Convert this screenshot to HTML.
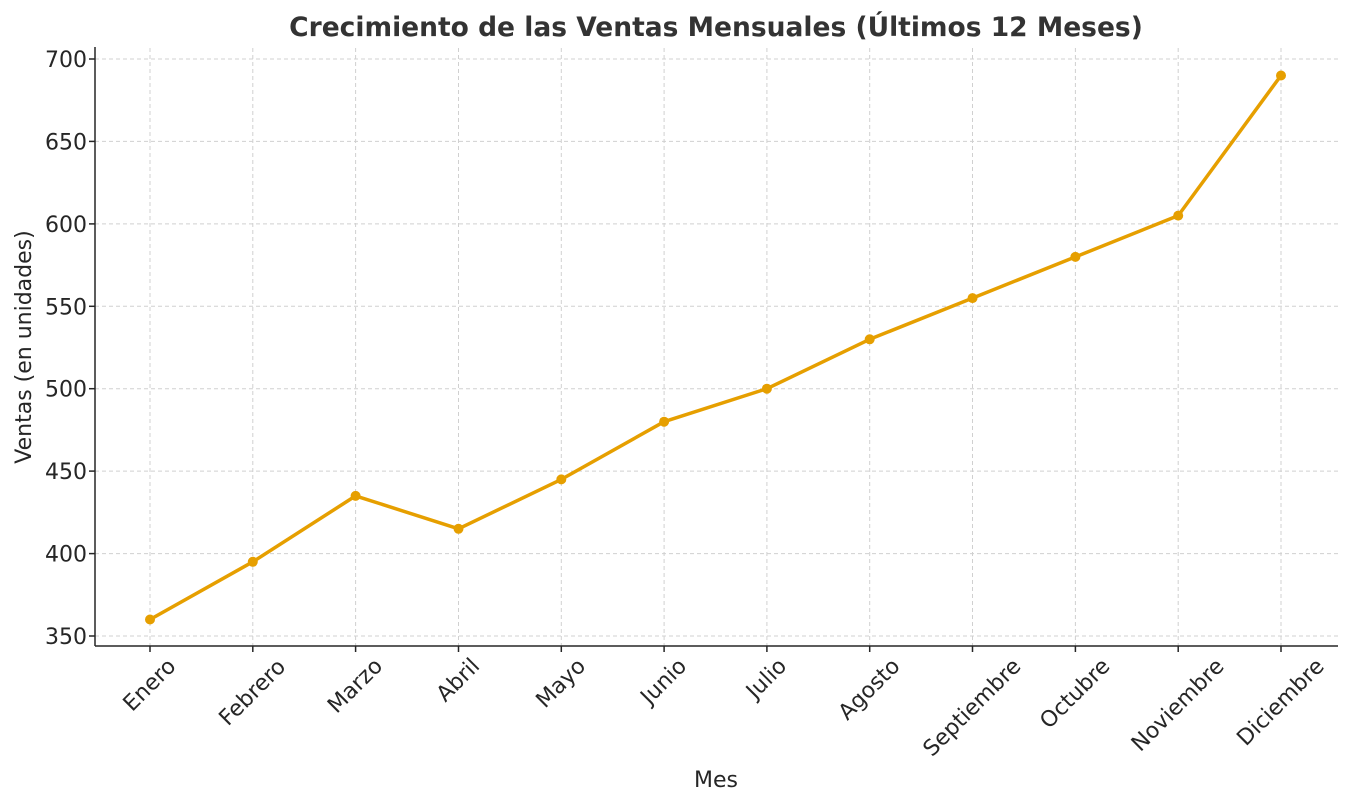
<!DOCTYPE html>
<html><head><meta charset="utf-8"><style>body{margin:0;background:#fff}svg{display:block}text{font-family:"DejaVu Sans","Liberation Sans",sans-serif;fill:#262626}</style></head><body>
<svg width="1351" height="806" xmlns="http://www.w3.org/2000/svg">
<rect width="1351" height="806" fill="#fff"/>
<g stroke="#d0d0d0" stroke-width="1" stroke-dasharray="4,3">
<line x1="95" x2="1338" y1="59" y2="59"/><line x1="95" x2="1338" y1="141.4" y2="141.4"/><line x1="95" x2="1338" y1="223.9" y2="223.9"/><line x1="95" x2="1338" y1="306.3" y2="306.3"/><line x1="95" x2="1338" y1="388.7" y2="388.7"/><line x1="95" x2="1338" y1="471.1" y2="471.1"/><line x1="95" x2="1338" y1="553.6" y2="553.6"/><line x1="95" x2="1338" y1="636" y2="636"/>
<line y1="48" y2="646" x1="150" x2="150"/><line y1="48" y2="646" x1="252.8" x2="252.8"/><line y1="48" y2="646" x1="355.6" x2="355.6"/><line y1="48" y2="646" x1="458.5" x2="458.5"/><line y1="48" y2="646" x1="561.3" x2="561.3"/><line y1="48" y2="646" x1="664.1" x2="664.1"/><line y1="48" y2="646" x1="766.9" x2="766.9"/><line y1="48" y2="646" x1="869.7" x2="869.7"/><line y1="48" y2="646" x1="972.5" x2="972.5"/><line y1="48" y2="646" x1="1075.4" x2="1075.4"/><line y1="48" y2="646" x1="1178.2" x2="1178.2"/><line y1="48" y2="646" x1="1281" x2="1281"/>
</g>
<g stroke="#262626" stroke-width="1.5">
<line x1="95" y1="47" x2="95" y2="646"/><line x1="95" y1="646" x2="1338" y2="646"/>
<line x1="89" x2="95" y1="59" y2="59"/><line x1="89" x2="95" y1="141.4" y2="141.4"/><line x1="89" x2="95" y1="223.9" y2="223.9"/><line x1="89" x2="95" y1="306.3" y2="306.3"/><line x1="89" x2="95" y1="388.7" y2="388.7"/><line x1="89" x2="95" y1="471.1" y2="471.1"/><line x1="89" x2="95" y1="553.6" y2="553.6"/><line x1="89" x2="95" y1="636" y2="636"/>
<line y1="646" y2="652" x1="150" x2="150"/><line y1="646" y2="652" x1="252.8" x2="252.8"/><line y1="646" y2="652" x1="355.6" x2="355.6"/><line y1="646" y2="652" x1="458.5" x2="458.5"/><line y1="646" y2="652" x1="561.3" x2="561.3"/><line y1="646" y2="652" x1="664.1" x2="664.1"/><line y1="646" y2="652" x1="766.9" x2="766.9"/><line y1="646" y2="652" x1="869.7" x2="869.7"/><line y1="646" y2="652" x1="972.5" x2="972.5"/><line y1="646" y2="652" x1="1075.4" x2="1075.4"/><line y1="646" y2="652" x1="1178.2" x2="1178.2"/><line y1="646" y2="652" x1="1281" x2="1281"/>
</g>
<g font-size="22" text-anchor="end">
<text x="87" y="67">700</text><text x="87" y="149.4">650</text><text x="87" y="231.9">600</text><text x="87" y="314.3">550</text><text x="87" y="396.7">500</text><text x="87" y="479.1">450</text><text x="87" y="561.6">400</text><text x="87" y="644">350</text>
</g>
<g font-size="22" text-anchor="middle" dominant-baseline="central">
<text transform="translate(150,685.3) rotate(-45)">Enero</text>
<text transform="translate(252.8,692.8) rotate(-45)">Febrero</text>
<text transform="translate(355.6,686.2) rotate(-45)">Marzo</text>
<text transform="translate(458.5,680.5) rotate(-45)">Abril</text>
<text transform="translate(561.3,683.6) rotate(-45)">Mayo</text>
<text transform="translate(664.1,681.8) rotate(-45)">Junio</text>
<text transform="translate(766.9,679) rotate(-45)">Julio</text>
<text transform="translate(869.7,689.6) rotate(-45)">Agosto</text>
<text transform="translate(972.5,707.9) rotate(-45)">Septiembre</text>
<text transform="translate(1075.4,694) rotate(-45)">Octubre</text>
<text transform="translate(1178.2,705.4) rotate(-45)">Noviembre</text>
<text transform="translate(1281,702.6) rotate(-45)">Diciembre</text>
</g>
<text x="716" y="787" font-size="22" text-anchor="middle">Mes</text>
<text transform="translate(31,347) rotate(-90)" font-size="22" text-anchor="middle">Ventas (en unidades)</text>
<text x="716" y="36" font-size="26.5" font-weight="bold" text-anchor="middle" style="fill:#333">Crecimiento de las Ventas Mensuales (Últimos 12 Meses)</text>
<polyline fill="none" stroke="#E69F00" stroke-width="3.5" stroke-linejoin="round" points="150,619.5 252.8,561.8 355.6,495.9 458.5,528.8 561.3,479.4 664.1,421.7 766.9,388.7 869.7,339.3 972.5,298.1 1075.4,256.9 1178.2,215.6 1281,75.5"/>
<g fill="#E69F00">
<circle cx="150" cy="619.5" r="5"/><circle cx="252.8" cy="561.8" r="5"/><circle cx="355.6" cy="495.9" r="5"/><circle cx="458.5" cy="528.8" r="5"/><circle cx="561.3" cy="479.4" r="5"/><circle cx="664.1" cy="421.7" r="5"/><circle cx="766.9" cy="388.7" r="5"/><circle cx="869.7" cy="339.3" r="5"/><circle cx="972.5" cy="298.1" r="5"/><circle cx="1075.4" cy="256.9" r="5"/><circle cx="1178.2" cy="215.6" r="5"/><circle cx="1281" cy="75.5" r="5"/>
</g>
</svg>
</body></html>
